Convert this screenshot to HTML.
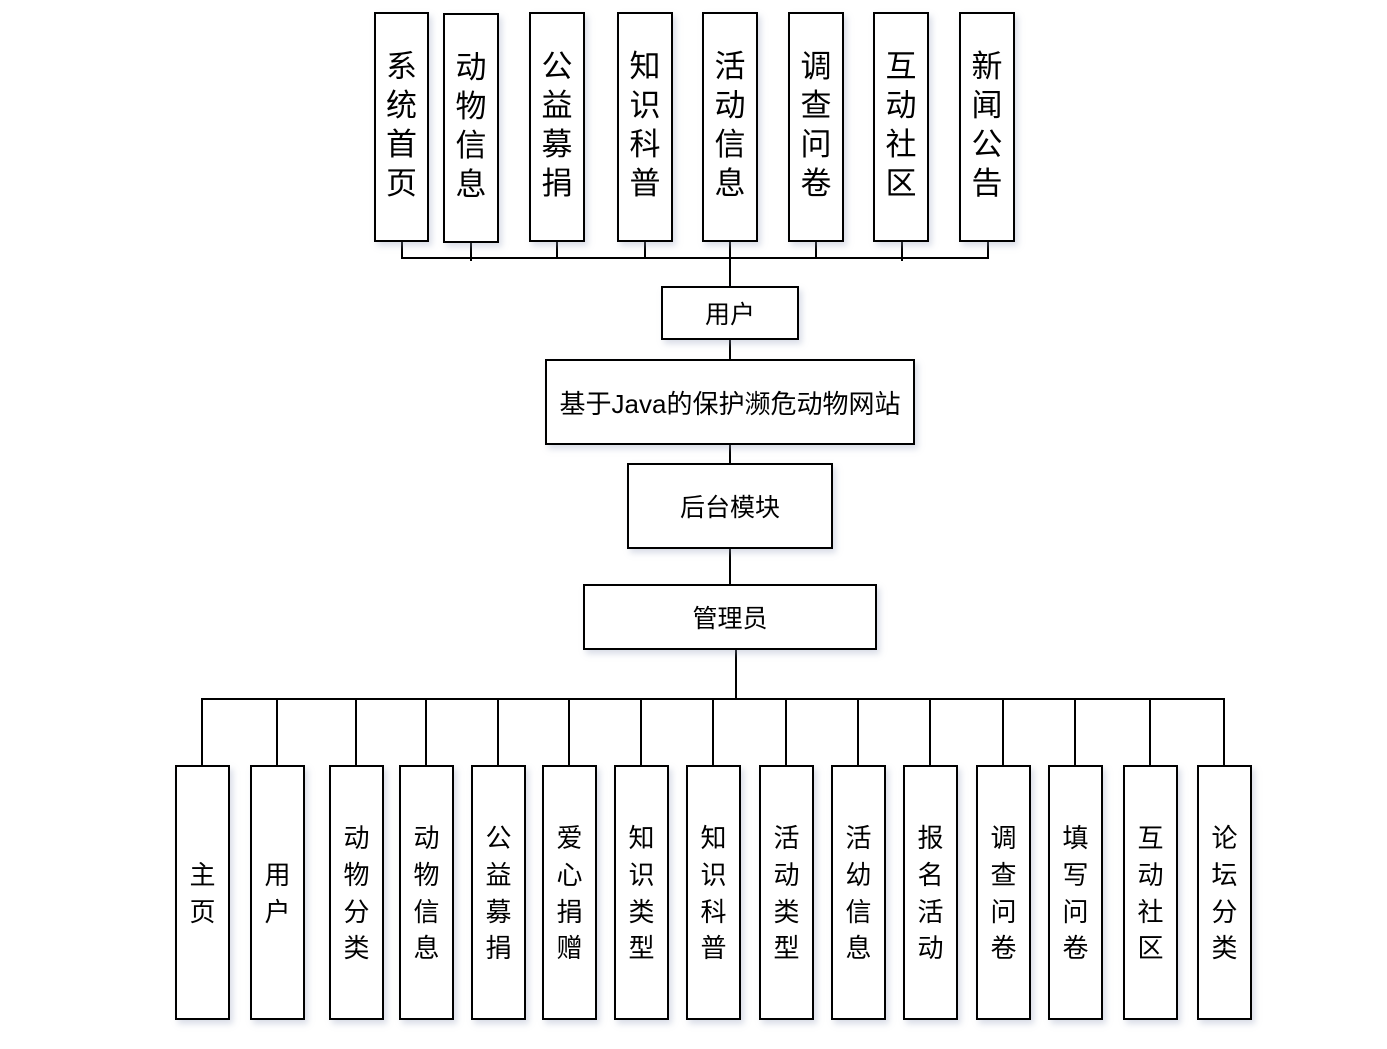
<!DOCTYPE html>
<html><head><meta charset="utf-8"><style>
body{margin:0;width:1387px;height:1049px;background:#fff;position:relative;overflow:hidden;font-family:"Liberation Sans","Noto Sans CJK SC",sans-serif;color:#000}
.b{position:absolute;border:2px solid #000;box-sizing:border-box;background:#fff;box-shadow:3px 4px 6px rgba(150,160,190,.35);display:flex;align-items:center;justify-content:center}
.v{flex-direction:column;line-height:1.3}
.t{font-size:31px;line-height:39px}
.s{font-size:26px;line-height:1.42}
.l{position:absolute;background:#000}
.h{font-size:25px}
</style></head><body>
<div class="l" style="left:401px;top:257px;width:588px;height:2px"></div>
<div class="l" style="left:401px;top:241px;width:2px;height:17px"></div>
<div class="l" style="left:470px;top:241px;width:2px;height:20px"></div>
<div class="l" style="left:556px;top:241px;width:2px;height:17px"></div>
<div class="l" style="left:644px;top:241px;width:2px;height:17px"></div>
<div class="l" style="left:815px;top:241px;width:2px;height:17px"></div>
<div class="l" style="left:901px;top:241px;width:2px;height:20px"></div>
<div class="l" style="left:987px;top:241px;width:2px;height:17px"></div>
<div class="l" style="left:729px;top:241px;width:2px;height:46px"></div>
<div class="l" style="left:729px;top:339px;width:2px;height:22px"></div>
<div class="l" style="left:729px;top:444px;width:2px;height:21px"></div>
<div class="l" style="left:729px;top:548px;width:2px;height:38px"></div>
<div class="l" style="left:735px;top:649px;width:2px;height:51px"></div>
<div class="l" style="left:201px;top:698px;width:1024px;height:2px"></div>

<div class="b v t" style="left:374px;top:12px;width:55px;height:230px;padding-bottom:4px">系<br>统<br>首<br>页</div>
<div class="b v t" style="left:443px;top:13px;width:56px;height:230px;padding-bottom:4px">动<br>物<br>信<br>息</div>
<div class="b v t" style="left:529px;top:12px;width:56px;height:230px;padding-bottom:4px">公<br>益<br>募<br>捐</div>
<div class="b v t" style="left:617px;top:12px;width:56px;height:230px;padding-bottom:4px">知<br>识<br>科<br>普</div>
<div class="b v t" style="left:702px;top:12px;width:56px;height:230px;padding-bottom:4px">活<br>动<br>信<br>息</div>
<div class="b v t" style="left:788px;top:12px;width:56px;height:230px;padding-bottom:4px">调<br>查<br>问<br>卷</div>
<div class="b v t" style="left:873px;top:12px;width:56px;height:230px;padding-bottom:4px">互<br>动<br>社<br>区</div>
<div class="b v t" style="left:959px;top:12px;width:56px;height:230px;padding-bottom:4px">新<br>闻<br>公<br>告</div>

<div class="b h" style="left:661px;top:286px;width:138px;height:54px">用户</div>
<div class="b h" style="left:545px;top:359px;width:370px;height:86px;font-size:26px">基于Java的保护濒危动物网站</div>
<div class="b h" style="left:627px;top:463px;width:206px;height:86px">后台模块</div>
<div class="b h" style="left:583px;top:584px;width:294px;height:66px">管理员</div>

<div id="bot"></div>
<script>
var xs=[175,250,329,399,471,542,614,686,759,831,903,976,1048,1123,1197];
var t=["主页","用户","动物分类","动物信息","公益募捐","爱心捐赠","知识类型","知识科普","活动类型","活幼信息","报名活动","调查问卷","填写问卷","互动社区","论坛分类"];
var h="";
for(var i=0;i<xs.length;i++){
 var c=xs[i]+27;
 h+='<div class="l" style="left:'+(c-1)+'px;top:699px;width:2px;height:67px"></div>';
 h+='<div class="b v s" style="left:'+xs[i]+'px;top:765px;width:55px;height:255px;padding-top:2px">'+t[i].split("").join("<br>")+'</div>';
}
document.getElementById("bot").innerHTML=h;
</script>
</body></html>
